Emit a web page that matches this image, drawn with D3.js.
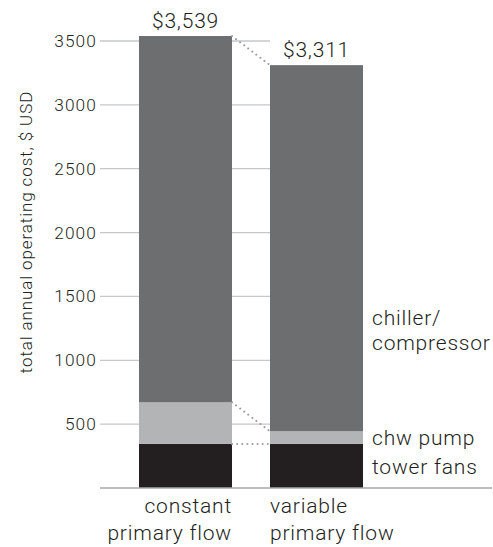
<!DOCTYPE html>
<html>
<head>
<meta charset="utf-8">
<script src="https://cdn.jsdelivr.net/npm/d3@7"></script>
<style>
  html, body { margin: 0; padding: 0; background: #fff; }
  svg { display: block; }
  text { font-family: Roboto, "Liberation Sans", sans-serif; font-weight: 300; fill: #231f20; }
</style>
</head>
<body>
<svg id="chart" width="493" height="547"></svg>
<script>
const categories = ["constant", "variable"];
const categoryLines = [["constant", "primary flow"], ["variable", "primary flow"]];
const seriesNames = ["tower fans", "chw pump", "chiller/compressor"];
const towerFans = [345, 345];
const chwPump = [326, 99];
const chiller = [2868, 2867];
const totalLabels = ["$3,539", "$3,311"];
const yTicks = [500, 1000, 1500, 2000, 2500, 3000, 3500];
const yTitle = "total annual operating cost, $ USD";
const legendLines = [["chiller/", "compressor"], ["chw pump"], ["tower fans"]];

const colors = {"tower fans": "#231f20", "chw pump": "#b3b4b6", "chiller/compressor": "#6d6e70"};

const svg = d3.select("#chart");
const y = d3.scaleLinear().domain([0, 3500]).range([488, 41]);
const x = d3.scaleBand().domain(categories).range([139, 363]).paddingInner(0.29).paddingOuter(0);

const rows = categories.map((c, i) => ({cat: c, "tower fans": towerFans[i], "chw pump": chwPump[i], "chiller/compressor": chiller[i]}));
const stacked = d3.stack().keys(seriesNames)(rows);

// gridlines
svg.append("g").selectAll("line").data(yTicks).join("line")
  .attr("x1", 100).attr("x2", x(categories[1]))
  .attr("y1", d => y(d)).attr("y2", d => y(d))
  .attr("stroke", "#c6c7c9").attr("stroke-width", 1.3);

// tick labels
svg.append("g").selectAll("text").data(yTicks).join("text")
  .attr("x", 97).attr("y", d => y(d)).attr("dy", "0.35em")
  .attr("text-anchor", "end").attr("font-size", 17.3)
  .attr("letter-spacing", 1.1)
  .text(d => d);

// y title
svg.append("text")
  .attr("transform", `translate(32, ${(87 + 377) / 2}) rotate(-90)`)
  .attr("text-anchor", "middle").attr("font-size", 17)
  .attr("letter-spacing", 0.9)
  .text(yTitle);

// bars
svg.append("g").selectAll("g").data(stacked).join("g")
  .attr("fill", d => colors[d.key])
  .selectAll("rect").data(d => d).join("rect")
  .attr("x", d => x(d.data.cat)).attr("width", x.bandwidth())
  .attr("y", d => y(d[1])).attr("height", d => y(d[0]) - y(d[1]));

// connector dotted lines
const connectors = stacked.map(s => s.map(d => d[1]));
svg.append("g").selectAll("line").data(connectors).join("line")
  .attr("x1", x(categories[0]) + x.bandwidth()).attr("x2", x(categories[1]))
  .attr("y1", d => y(d[0])).attr("y2", d => y(d[1]))
  .attr("stroke", "#9d9ea0").attr("stroke-width", 2)
  .attr("stroke-dasharray", "0.1,5").attr("stroke-linecap", "round");

// baseline
svg.append("line").attr("x1", 100).attr("x2", 492)
  .attr("y1", y(0)).attr("y2", y(0))
  .attr("stroke", "#a7a8aa").attr("stroke-width", 1.3);

// totals
svg.append("g").selectAll("text").data(categories).join("text")
  .attr("x", c => x(c) + x.bandwidth() / 2)
  .attr("y", (c, i) => y(stacked[2][i][1]) - 8)
  .attr("text-anchor", "middle").attr("font-size", 21)
  .attr("letter-spacing", 0.8)
  .text((c, i) => totalLabels[i]);

// category labels
categories.forEach((c, i) => {
  const ax = i === 0 ? x(c) + x.bandwidth() : x(c);
  const t = svg.append("text")
    .attr("x", ax).attr("y", 513)
    .attr("text-anchor", i === 0 ? "end" : "start")
    .attr("font-size", 21).attr("letter-spacing", 0.8);
  categoryLines[i].forEach((line, j) => {
    t.append("tspan").attr("x", ax).attr("dy", j === 0 ? 0 : 27).text(line);
  });
});

// legend labels
const legendY = [325, 445, 474];
legendLines.forEach((lines, i) => {
  const t = svg.append("text").attr("x", 372).attr("y", legendY[i])
    .attr("font-size", 21).attr("letter-spacing", 0.8);
  lines.forEach((line, j) => t.append("tspan").attr("x", 372).attr("dy", j === 0 ? 0 : 25).text(line));
});
</script>
</body>
</html>
